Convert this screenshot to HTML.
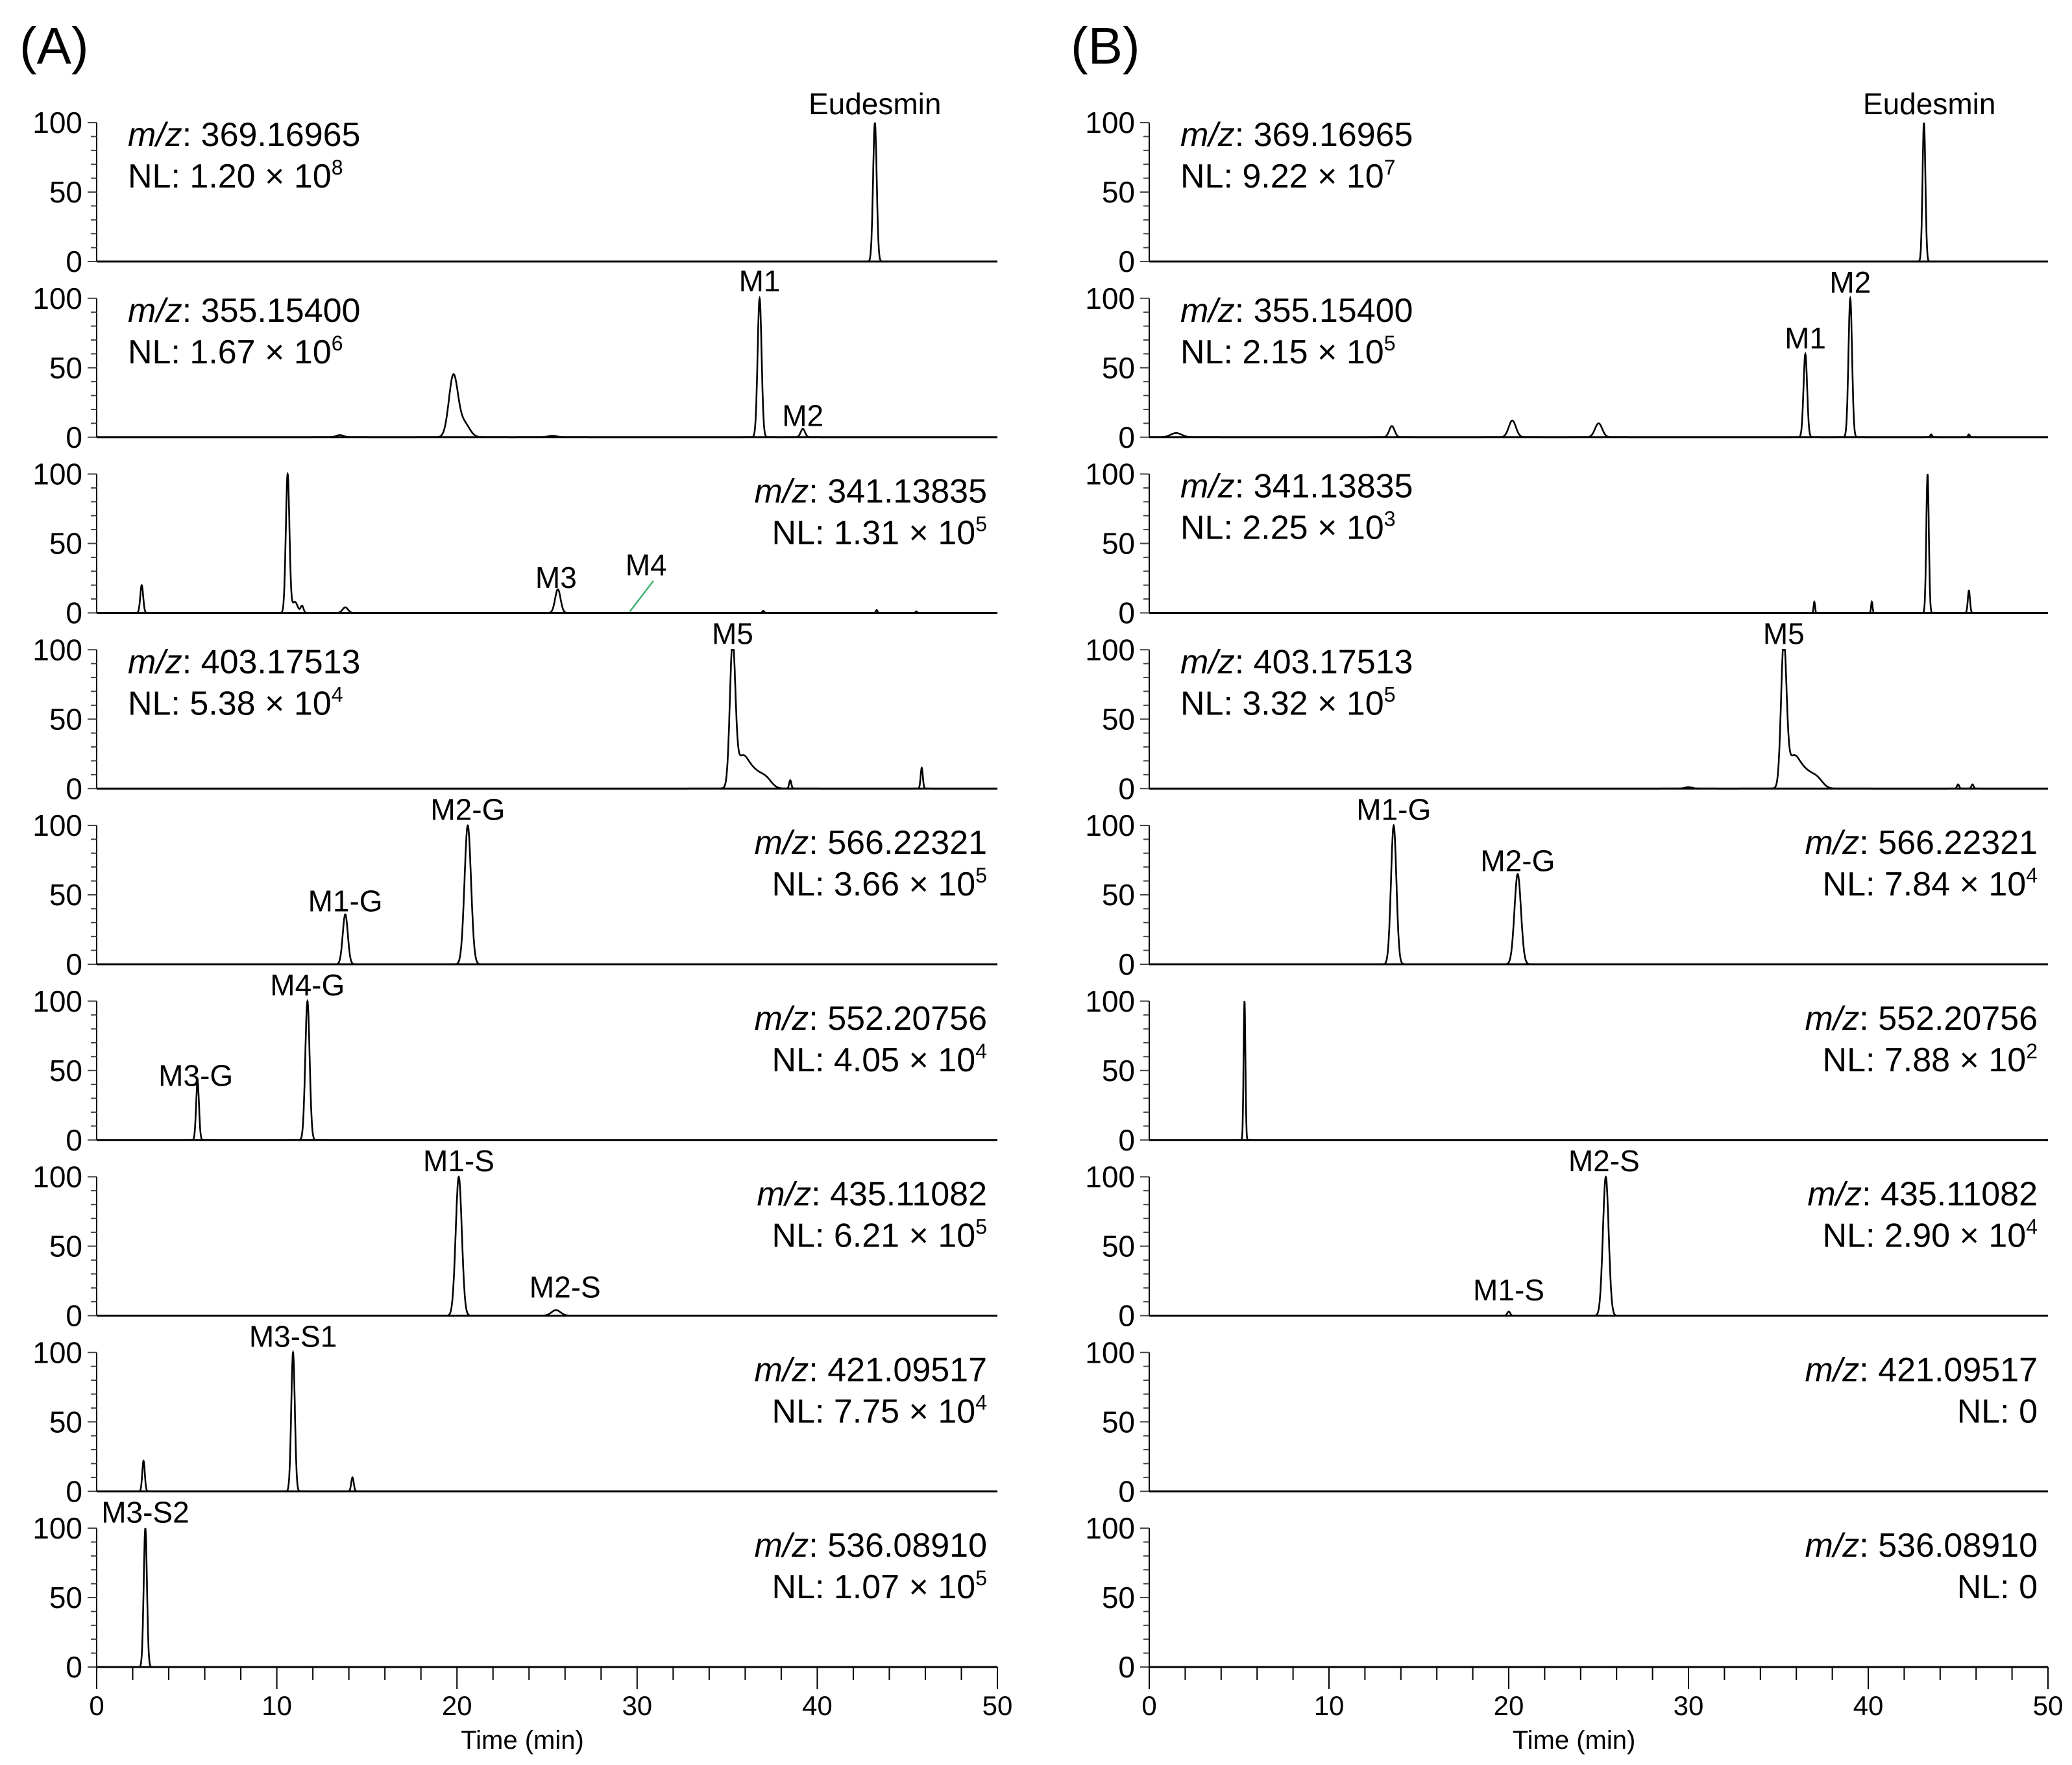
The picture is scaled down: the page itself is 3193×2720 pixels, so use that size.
<!DOCTYPE html>
<html><head><meta charset="utf-8"><style>
html,body{margin:0;padding:0;background:#fff;}
svg{display:block;font-family:"Liberation Sans",Arial,sans-serif;}
</style></head><body>
<svg id="chart" width="3193" height="2720" viewBox="0 0 3193 2720" xmlns="http://www.w3.org/2000/svg">
<text x="30" y="98" font-size="80">(A)</text>
<text x="1650" y="98" font-size="80">(B)</text>
</svg>
<script>
// Peak tables: retention time (min), relative height (%), width sigma (min)
const rtA = [
 [43.2],
 [13.5,19.8,20.4,25.3,36.8,39.2],
 [2.5,10.6,11.0,11.4,13.8,25.6,37.0,43.3,45.5],
 [35.3,35.8,36.5,37.2,38.5,45.8],
 [13.8,20.6],
 [5.6,11.7],
 [20.1,25.5],
 [2.6,10.9,14.2],
 [2.7]
];
const hA = [
 [100],
 [1.5,44,10,1,100,6],
 [20,100,8,5,4,17,1.5,2,1],
 [100,20,12,5,6,15],
 [36,100],
 [42,100],
 [100,4],
 [22,100,10],
 [100]
];
const sA = [
 [0.1],
 [0.2,0.25,0.3,0.25,0.11,0.12],
 [0.08,0.1,0.15,0.08,0.15,0.15,0.05,0.05,0.05],
 [0.15,0.35,0.45,0.3,0.06,0.06],
 [0.14,0.18],
 [0.08,0.12],
 [0.17,0.25],
 [0.07,0.1,0.07],
 [0.09]
];
const rtB = [
 [43.1],
 [1.5,13.5,20.2,25.0,36.5,39.0,43.5,45.6],
 [37.0,40.2,43.3,45.6],
 [30.0,35.3,35.8,36.5,37.2,45.0,45.8],
 [13.6,20.5],
 [5.3],
 [20.0,25.4],
 [],
 []
];
const hB = [
 [100],
 [3,8,12,10,60,100,2,2],
 [8,8,100,16],
 [1,100,20,12,5,3,3],
 [100,65],
 [100],
 [3,100],
 [],
 []
];
const sB = [
 [0.08],
 [0.3,0.15,0.2,0.2,0.1,0.1,0.05,0.05],
 [0.04,0.04,0.07,0.06],
 [0.2,0.15,0.35,0.45,0.3,0.06,0.06],
 [0.15,0.18],
 [0.05],
 [0.08,0.16],
 [],
 []
];
const mzA = ["369.16965","355.15400","341.13835","403.17513","566.22321","552.20756","435.11082","421.09517","536.08910"];
const nlA = [["1.20","8"],["1.67","6"],["1.31","5"],["5.38","4"],["3.66","5"],["4.05","4"],["6.21","5"],["7.75","4"],["1.07","5"]];
const mzB = mzA;
const nlB = [["9.22","7"],["2.15","5"],["2.25","3"],["3.32","5"],["7.84","4"],["7.88","2"],["2.90","4"],null,null];
const alignA = ["left","left","right","left","right","right","right","right","right"];
const alignB = ["left","left","left","left","right","right","right","right","right"];
// Peak labels: [panel, text, time, y-position %]
const labelsA = [[0,"Eudesmin",43.2,106],[1,"M1",36.8,105],[1,"M2",39.2,8],[2,"M3",25.5,18],[2,"M4",30.5,27],[3,"M5",35.3,104],[4,"M1-G",13.8,38],[4,"M2-G",20.6,104],[5,"M3-G",5.5,39],[5,"M4-G",11.7,104],[6,"M1-S",20.1,104],[6,"M2-S",26.0,13],[7,"M3-S1",10.9,104],[8,"M3-S2",2.7,104]];
const labelsB = [[0,"Eudesmin",43.4,106],[1,"M1",36.5,64],[1,"M2",39.0,104],[3,"M5",35.3,104],[4,"M1-G",13.6,104],[4,"M2-G",20.5,67],[6,"M2-S",25.3,104],[6,"M1-S",20.0,11]];
const xTicks = [0,10,20,30,40,50];
const yTicks = [0,50,100];

const NS="http://www.w3.org/2000/svg";
const svg=document.getElementById('chart');
const Y0=403, DY=270.75, YH=214;
function mk(tag,attrs,parent){const e=document.createElementNS(NS,tag);for(const k in attrs)e.setAttribute(k,attrs[k]);(parent||svg).appendChild(e);return e;}
function panel(side,i,rts,hs,ss,mz,nl,align,x0,x1){
  const g=mk('g',{});
  
  
  const base=Y0+i*DY;
  const xs=t=>x0+(x1-x0)*t/50;
  const ys=v=>base-YH*v/100;
  const ax=mk('line',{x1:x0,y1:ys(0),x2:x0,y2:ys(100),stroke:'#000','stroke-width':2},g);
  
  
  for(let v=0;v<=100;v+=10){
    const major=v%50===0;
    mk('line',{x1:x0-(major?14:9),y1:ys(v),x2:x0,y2:ys(v),stroke:'#444','stroke-width':2},g);
  }
  yTicks.forEach(v=>{
    const t=mk('text',{x:x0-22,y:ys(v)+16,'font-size':46,'text-anchor':'end'},g);
    t.textContent=v;
    
    
  });
  let d='';
  for(let k=0;k<=5000;k++){
    const t=k*0.01;let v=0;
    for(let j=0;j<rts.length;j++){const z=(t-rts[j])/ss[j];v+=hs[j]*Math.exp(-0.5*z*z);}
    d+=(k?'L':'M')+xs(t).toFixed(1)+' '+ys(Math.min(v,100)).toFixed(1);
  }
  const p=mk('path',{d:d,fill:'none',stroke:'#000','stroke-width':2.6},g);
  
  
  mk('line',{x1:x0,y1:base,x2:x1,y2:base,stroke:'#000','stroke-width':3},g);
  const L=align==='left';
  const tx=L?x0+48:x1-16, anc=L?'start':'end';
  const o1=L?36:44, o2=L?100:108;
  const t1=mk('text',{x:tx,y:ys(100)+o1,'font-size':52,'text-anchor':anc},g);
  
  
  t1.innerHTML='<tspan font-style="italic">m/z</tspan>: '+mz;
  const t2=mk('text',{x:tx,y:ys(100)+o2,'font-size':52,'text-anchor':anc},g);
  
  
  t2.innerHTML=nl?('NL: '+nl[0]+' × 10<tspan font-size="32" dy="-20">'+nl[1]+'</tspan>'):'NL: 0';
  return {xs,ys,g};
}
function side(name,rt,h,s,mz,nl,al,labels,x0,x1){
  const ps=[];
  for(let i=0;i<9;i++)ps.push(panel(name,i,rt[i],h[i],s[i],mz[i],nl[i],al[i],x0,x1));
  labels.forEach(l=>{
    const P=ps[l[0]];
    const t=mk('text',{x:P.xs(l[2]),y:P.ys(l[3]),'font-size':46,'text-anchor':'middle'},P.g);
    t.textContent=l[1];
    
    
  });
  const base=Y0+8*DY, xs=ps[8].xs;
  for(let t=0;t<=50;t+=2){
    const major=t%10===0;
    mk('line',{x1:xs(t),y1:base,x2:xs(t),y2:base+(major?34:20),stroke:'#000','stroke-width':2});
  }
  xTicks.forEach(t=>{
    const e=mk('text',{x:xs(t),y:base+74,'font-size':42,'text-anchor':'middle'});
    e.textContent=t;
    
    
  });
  const xt=mk('text',{x:(x0+x1)/2-38,y:base+126,'font-size':40,'text-anchor':'middle'});
  xt.textContent='Time (min)';
  
  
  return ps;
}
const PA=side('a',rtA,hA,sA,mzA,nlA,alignA,labelsA,149,1537);
side('b',rtB,hB,sB,mzB,nlB,alignB,labelsB,1771,3156);
const m4=mk('line',{x1:PA[2].xs(29.6),y1:PA[2].ys(1),x2:PA[2].xs(30.9),y2:PA[2].ys(23),stroke:'#3cb371','stroke-width':2.5});


</script>
</body></html>
